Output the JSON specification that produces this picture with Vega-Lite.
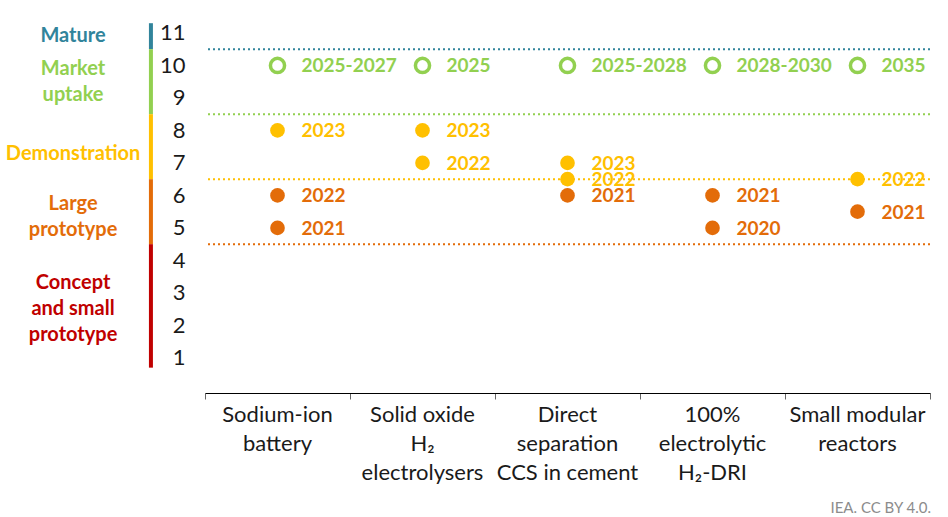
{
  "$schema": "https://vega.github.io/schema/vega-lite/v6.json",
  "background": "white",
  "padding": {"left": 5, "top": 5, "right": 5, "bottom": 5},
  "spacing": 6,
  "config": {"view": {"stroke": null}, "font": "Lato"},
  "datasets": {
    "stages": [
      {"stage": "Mature", "label": "Mature", "start": 10.5, "end": 11.3, "labelY": 10.91},
      {"stage": "Market uptake", "label": "Market\nuptake", "start": 8.5, "end": 10.5, "labelY": 9.9},
      {"stage": "Demonstration", "label": "Demonstration", "start": 6.5, "end": 8.5, "labelY": 7.28},
      {"stage": "Large prototype", "label": "Large\nprototype", "start": 4.5, "end": 6.5, "labelY": 5.74},
      {"stage": "Concept and small prototype", "label": "Concept\nand small\nprototype", "start": 0.7, "end": 4.5, "labelY": 3.31}
    ],
    "points": [
      {"tech": "Sodium-ion battery", "trl": 10, "year": "2025-2027", "stage": "Market uptake"},
      {"tech": "Sodium-ion battery", "trl": 8, "year": "2023", "stage": "Demonstration"},
      {"tech": "Sodium-ion battery", "trl": 6, "year": "2022", "stage": "Large prototype"},
      {"tech": "Sodium-ion battery", "trl": 5, "year": "2021", "stage": "Large prototype"},
      {"tech": "Solid oxide H₂ electrolysers", "trl": 10, "year": "2025", "stage": "Market uptake"},
      {"tech": "Solid oxide H₂ electrolysers", "trl": 8, "year": "2023", "stage": "Demonstration"},
      {"tech": "Solid oxide H₂ electrolysers", "trl": 7, "year": "2022", "stage": "Demonstration"},
      {"tech": "Direct separation CCS in cement", "trl": 10, "year": "2025-2028", "stage": "Market uptake"},
      {"tech": "Direct separation CCS in cement", "trl": 7, "year": "2023", "stage": "Demonstration"},
      {"tech": "Direct separation CCS in cement", "trl": 6.5, "year": "2022", "stage": "Demonstration"},
      {"tech": "Direct separation CCS in cement", "trl": 6, "year": "2021", "stage": "Large prototype"},
      {"tech": "100% electrolytic H₂-DRI", "trl": 10, "year": "2028-2030", "stage": "Market uptake"},
      {"tech": "100% electrolytic H₂-DRI", "trl": 6, "year": "2021", "stage": "Large prototype"},
      {"tech": "100% electrolytic H₂-DRI", "trl": 5, "year": "2020", "stage": "Large prototype"},
      {"tech": "Small modular reactors", "trl": 10, "year": "2035", "stage": "Market uptake"},
      {"tech": "Small modular reactors", "trl": 6.5, "year": "2022", "stage": "Demonstration"},
      {"tech": "Small modular reactors", "trl": 5.5, "year": "2021", "stage": "Large prototype"}
    ],
    "thresholds": [
      {"stage": "Mature", "level": 10.5},
      {"stage": "Market uptake", "level": 8.5},
      {"stage": "Demonstration", "level": 6.5},
      {"stage": "Large prototype", "level": 4.5}
    ]
  },
  "title": {
    "text": "IEA. CC BY 4.0.",
    "orient": "bottom",
    "anchor": "end",
    "color": "#8c8c8c",
    "fontSize": 15,
    "fontWeight": "normal",
    "font": "Lato",
    "offset": 18
  },
  "hconcat": [
    {
      "width": 148,
      "height": 388,
      "layer": [
        {
          "data": {"name": "stages"},
          "mark": {"type": "text", "fontWeight": "bold", "fontSize": 20, "lineBreak": "\n", "lineHeight": 26, "align": "center", "baseline": "middle"},
          "encoding": {
            "x": {"datum": 0.46, "type": "quantitative", "scale": {"domain": [0, 1]}, "axis": null},
            "y": {"field": "labelY", "type": "quantitative", "scale": {"domain": [-0.08, 11.86], "nice": false, "zero": false}, "axis": null},
            "text": {"field": "label"},
            "color": {
              "field": "stage", "type": "nominal", "legend": null,
              "scale": {
                "domain": ["Mature", "Market uptake", "Demonstration", "Large prototype", "Concept and small prototype"],
                "range": ["#31849B", "#92D050", "#FFC000", "#E36C09", "#C00000"]
              }
            }
          }
        },
        {
          "data": {"name": "stages"},
          "mark": {"type": "rule", "strokeWidth": 4},
          "encoding": {
            "x": {"datum": 0.986, "type": "quantitative"},
            "y": {"field": "start", "type": "quantitative"},
            "y2": {"field": "end"},
            "color": {"field": "stage", "type": "nominal", "legend": null}
          }
        }
      ]
    },
    {
      "width": 725,
      "height": 388,
      "resolve": {"axis": {"x": "independent"}},
      "encoding": {
        "y": {
          "field": "trl", "type": "quantitative",
          "scale": {"domain": [-0.08, 11.86], "nice": false, "zero": false},
          "axis": {
            "values": [1, 2, 3, 4, 5, 6, 7, 8, 9, 10, 11],
            "domain": false, "ticks": false, "grid": false, "title": null,
            "labelFontSize": 22, "labelColor": "#1a1a1a", "labelPadding": 20, "labelFont": "Lato"
          }
        }
      },
      "layer": [
        {
          "data": {"name": "thresholds"},
          "mark": {"type": "rule", "strokeWidth": 2, "strokeDash": [2, 3]},
          "encoding": {
            "y": {"field": "level", "type": "quantitative"},
            "color": {
              "field": "stage", "type": "nominal", "legend": null,
              "scale": {
                "domain": ["Mature", "Market uptake", "Demonstration", "Large prototype", "Concept and small prototype"],
                "range": ["#31849B", "#92D050", "#FFC000", "#E36C09", "#C00000"]
              }
            }
          }
        },
        {
          "data": {"name": "points"},
          "transform": [{"filter": "datum.stage === 'Market uptake'"}],
          "mark": {"type": "point", "shape": "circle", "filled": false, "strokeWidth": 3.5, "size": 200, "opacity": 1},
          "encoding": {
            "x": {
              "field": "tech", "type": "nominal", "sort": null,
              "scale": {"domain": ["Sodium-ion battery", "Solid oxide H₂ electrolysers", "Direct separation CCS in cement", "100% electrolytic H₂-DRI", "Small modular reactors"], "paddingInner": 0, "paddingOuter": 0},
              "axis": {
                "orient": "bottom",
                "title": null,
                "labels": false,
                "tickBand": "extent",
                "domainColor": "#000000",
                "domainWidth": 1,
                "tickColor": "#666666",
                "tickSize": 6
              }
            },
            "color": {"field": "stage", "type": "nominal", "legend": null}
          }
        },
        {
          "data": {"name": "points"},
          "transform": [{"filter": "datum.stage !== 'Market uptake'"}],
          "mark": {"type": "circle", "size": 215, "opacity": 1},
          "encoding": {
            "x": {"field": "tech", "type": "nominal", "sort": null, "axis": null},
            "color": {"field": "stage", "type": "nominal", "legend": null}
          }
        },
        {
          "data": {"name": "points"},
          "mark": {"type": "text", "align": "left", "baseline": "middle", "dx": 24, "dy": 1, "fontSize": 19, "fontWeight": "bold"},
          "encoding": {
            "x": {
              "field": "tech", "type": "nominal", "sort": null,
              "axis": {
                "orient": "bottom",
                "title": null,
                "domain": false,
                "ticks": false,
                "labelAngle": 0,
                "labelFontSize": 22,
                "labelColor": "#1a1a1a",
                "labelFont": "Lato",
                "labelPadding": 11,
                "labelLineHeight": 29,
                "labelBaseline": "top",
                "labelExpr": "datum.label === 'Sodium-ion battery' ? ['Sodium-ion', 'battery'] : datum.label === 'Solid oxide H₂ electrolysers' ? ['Solid oxide', 'H₂', 'electrolysers'] : datum.label === 'Direct separation CCS in cement' ? ['Direct', 'separation', 'CCS in cement'] : datum.label === '100% electrolytic H₂-DRI' ? ['100%', 'electrolytic', 'H₂-DRI'] : ['Small modular', 'reactors']"
              }
            },
            "text": {"field": "year"},
            "color": {"field": "stage", "type": "nominal", "legend": null}
          }
        }
      ]
    }
  ]
}
